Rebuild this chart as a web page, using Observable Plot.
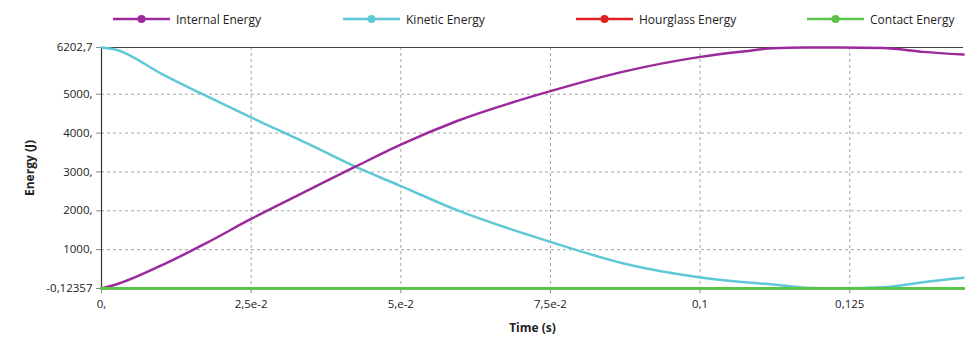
<!DOCTYPE html>
<html>
<head>
<meta charset="utf-8">
<script src="https://cdn.jsdelivr.net/npm/d3@7"></script>
<script src="https://cdn.jsdelivr.net/npm/@observablehq/plot@0.6"></script>
<style>
  html, body { margin: 0; padding: 0; background: #fff; }
  #wrap { position: relative; width: 966px; height: 341px; font-family: "Open Sans", "Noto Sans", sans-serif; }
  #legend { position: absolute; left: 0; top: 0; width: 966px; height: 36px; }
  .item { position: absolute; top: 10px; height: 18px; display: flex; align-items: center; font-size: 12px; color: #222; white-space: nowrap; }
  .item svg { margin-right: 6px; }
</style>
</head>
<body>
<div id="wrap"><div id="chart"></div><div id="legend"></div></div>
<script>
// ---- data ----
const time     = [0, 0.0023, 0.0101, 0.0174, 0.0249, 0.0349, 0.0424, 0.0499, 0.0594, 0.075, 0.0874, 0.0998, 0.1075, 0.1122, 0.1177, 0.1234, 0.1306, 0.1373, 0.144];
const internal = [0, 96, 600, 1160, 1783, 2558, 3134, 3695, 4310, 5080, 5589, 5955, 6106, 6185, 6200, 6202, 6190, 6090, 6020];
const kinetic  = [6202.7, 6150, 5520, 4961, 4410, 3695, 3134, 2643, 2016, 1200, 638, 292, 163, 103, 20, 5, 30, 163, 276];
const zeroTime = [0, 0.144];
const hourglass = [0, 0];
const contact   = [0, 0];

const seriesNames  = ["Internal Energy", "Kinetic Energy", "Hourglass Energy", "Contact Energy"];
const seriesColors = ["#9b2a9b", "#5fc8d7", "#e0201e", "#5dc24a"];

const yTicks  = [-0.12357, 1000, 2000, 3000, 4000, 5000, 6202.7];
const yLabels = ["-0,12357", "1000,", "2000,", "3000,", "4000,", "5000,", "6202,7"];
const xTicks  = [0, 0.025, 0.05, 0.075, 0.1, 0.125];
const xLabels = ["0,", "2,5e-2", "5,e-2", "7,5e-2", "0,1", "0,125"];
const yGrid = [1000, 2000, 3000, 4000, 5000];
const xGrid = [0.025, 0.05, 0.075, 0.1, 0.125];

// ---- build tables ----
const mk = (ts, vs) => ts.map((t, i) => ({t, v: vs[i]}));
const dInternal = mk(time, internal);
const dKinetic = mk(time, kinetic);
const dHour = mk(zeroTime, hourglass);
const dContact = mk(zeroTime, contact);
const yMap = new Map(yTicks.map((d, i) => [d, yLabels[i]]));
const xMap = new Map(xTicks.map((d, i) => [d, xLabels[i]]));

const chart = Plot.plot({
  width: 966, height: 341,
  marginLeft: 101, marginRight: 3, marginTop: 47, marginBottom: 53,
  style: { fontFamily: "'Open Sans', 'Noto Sans', sans-serif", fontSize: "11.5px", color: "#222", background: "white", overflow: "visible" },
  x: { domain: [0, 0.144] },
  y: { domain: [-0.12357, 6202.7] },
  marks: [
    Plot.gridX(xGrid, { stroke: "#a5a5a5", strokeOpacity: 1, strokeDasharray: "3,3" }),
    Plot.gridY(yGrid, { stroke: "#a5a5a5", strokeOpacity: 1, strokeDasharray: "3,3" }),
    Plot.axisX(xTicks, { tickFormat: d => xMap.get(d), tickSize: 5, tickPadding: 6, stroke: "#888", label: "Time (s)", labelAnchor: "center", labelArrow: "none", labelOffset: 43 }),
    Plot.axisY(yTicks, { tickFormat: d => yMap.get(d), tickSize: 5, tickPadding: 4, stroke: "#888", label: "Energy (J)", labelAnchor: "center", labelArrow: "none", labelOffset: 76 }),
    Plot.ruleX([0], { stroke: "#333", strokeWidth: 1.2 }),
    Plot.ruleY([6202.7], { stroke: "#444", strokeWidth: 1.2 }),
    Plot.lineY(dKinetic, { x: "t", y: "v", stroke: seriesColors[1], strokeWidth: 2.5, curve: "monotone-x" }),
    Plot.lineY(dInternal, { x: "t", y: "v", stroke: seriesColors[0], strokeWidth: 2.5, curve: "monotone-x" }),
    Plot.lineY(dHour, { x: "t", y: "v", stroke: seriesColors[2], strokeWidth: 2.5 }),
    Plot.lineY(dContact, { x: "t", y: "v", stroke: seriesColors[3], strokeWidth: 3 })
  ]
});
document.getElementById("chart").appendChild(chart);
// bold axis titles
chart.querySelectorAll("[aria-label='x-axis label'] text, [aria-label='y-axis label'] text").forEach(t => { t.setAttribute("font-weight", "bold"); t.setAttribute("font-size", "12px"); });

// ---- legend ----
const legendX = [113, 343, 576, 807];
const legend = document.getElementById("legend");
seriesNames.forEach((name, i) => {
  const div = document.createElement("div");
  div.className = "item";
  div.style.left = legendX[i] + "px";
  div.innerHTML = `<svg width="57" height="10"><line x1="0" y1="5" x2="57" y2="5" stroke="${seriesColors[i]}" stroke-width="2.5"/><circle cx="28.5" cy="5" r="4" fill="${seriesColors[i]}"/></svg><span>${name}</span>`;
  legend.appendChild(div);
});
</script>
</body>
</html>
